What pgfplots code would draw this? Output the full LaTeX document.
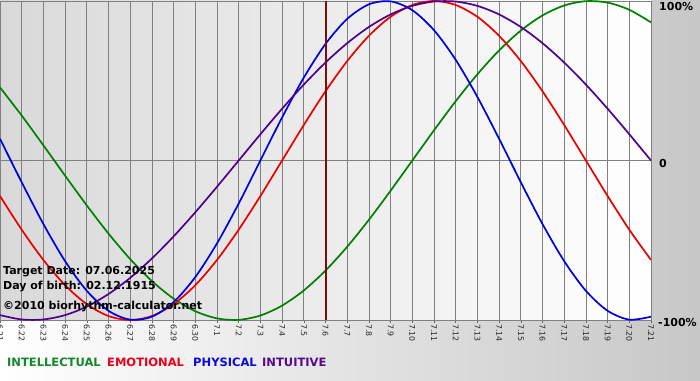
\documentclass[border=0pt]{standalone}
\usepackage{pgfplots}
\pgfplotsset{compat=1.18}
\usepackage{pgfplotstable}
\usepackage{fontspec}
\setmainfont{DejaVu Sans}
\definecolor{cIntel}{RGB}{0,128,0}
\definecolor{cEmo}{RGB}{235,0,0}
\definecolor{cPhy}{RGB}{0,0,220}
\definecolor{cIntu}{RGB}{80,0,140}
\definecolor{cTarget}{RGB}{120,15,15}
\definecolor{lIntel}{RGB}{20,135,45}
\definecolor{lEmo}{RGB}{235,0,25}
\definecolor{lPhy}{RGB}{10,10,225}
\definecolor{lIntu}{RGB}{85,10,140}

\pgfplotstableread{
x phy emo intel intu
0 13.62 -22.25 45.82 -96.94
1 -13.62 -43.39 28.17 -99.66
2 -39.84 -62.35 9.51 -99.66
3 -63.11 -78.18 -9.51 -96.94
4 -81.70 -90.10 -28.17 -91.58
5 -94.23 -97.49 -45.82 -83.72
6 -99.77 -100 -61.82 -73.57
7 -97.91 -97.49 -75.58 -61.42
8 -88.79 -90.10 -86.60 -47.60
9 -73.08 -78.18 -94.49 -32.47
10 -51.96 -62.35 -98.98 -16.46
11 -26.98 -43.39 -99.89 0
12 0 -22.25 -97.18 16.46
13 26.98 0 -90.96 32.47
14 51.96 22.25 -81.46 47.60
15 73.08 43.39 -69.01 61.42
16 88.79 62.35 -54.06 73.57
17 97.91 78.18 -37.17 83.72
18 99.77 90.10 -18.93 91.58
19 94.23 97.49 0 96.94
20 81.70 100 18.93 99.66
21 63.11 97.49 37.17 99.66
22 39.84 90.10 54.06 96.94
23 13.62 78.18 69.01 91.58
24 -13.62 62.35 81.46 83.72
25 -39.84 43.39 90.96 73.57
26 -63.11 22.25 97.18 61.42
27 -81.70 0 99.89 47.60
28 -94.23 -22.25 98.98 32.47
29 -99.77 -43.39 94.49 16.46
30 -97.91 -62.35 86.60 0
}\bio

\begin{document}
\begin{tikzpicture}
\shade[left color=white, right color=black!22] (0pt,0pt) rectangle (700pt,380pt);
\useasboundingbox (0pt,0pt) rectangle (700pt,380pt);
\begin{axis}[
  at={(0pt,60pt)}, anchor=south west,
  scale only axis, width=651pt, height=319pt,
  xmin=0, xmax=30, ymin=-100, ymax=100,
  axis background/.style={left color=black!15, right color=white},
  axis line style={draw=black!50, line width=0.8pt},
  xtick={0,...,30},
  xticklabels={6.21,6.22,6.23,6.24,6.25,6.26,6.27,6.28,6.29,6.30,7.1,7.2,7.3,7.4,7.5,7.6,7.7,7.8,7.9,7.10,7.11,7.12,7.13,7.14,7.15,7.16,7.17,7.18,7.19,7.20,7.21},
  xtick pos=bottom, tick align=outside, major tick length=3pt,
  xtick style={draw=black!60, line width=0.6pt},
  xticklabel style={rotate=-90, anchor=west, font=\fontsize{7.8}{9}\selectfont, text=black!85, inner sep=1pt},
  ytick={-100,0,100}, yticklabels={}, ytick style={draw=none},
  xmajorgrids, ymajorgrids,
  grid style={draw=black!50, line width=0.8pt},
  clip=true,
]
\addplot[cIntel, line width=1.7pt, smooth] table[x=x, y=intel] {\bio};
\addplot[cEmo, line width=1.7pt, smooth] table[x=x, y=emo] {\bio};
\addplot[cPhy, line width=1.7pt, smooth] table[x=x, y=phy] {\bio};
\addplot[cIntu, line width=1.7pt, smooth] table[x=x, y=intu] {\bio};
\addplot[cTarget, line width=2pt] coordinates {(15,-100) (15,100)};
\end{axis}
\begin{scope}[every node/.style={font=\bfseries\fontsize{11}{13}\selectfont, inner sep=0pt}]
\node[anchor=west] at (659pt,373pt) {100\%};
\node[anchor=west] at (659pt,217pt) {0};
\node[anchor=west] at (658pt,58pt) {-100\%};
\node[anchor=west] at (3pt,108pt) {Target Date: 07.06.2025};
\node[anchor=west] at (3pt,93pt) {Day of birth: 02.12.1915};
\node[anchor=west] at (3pt,73pt) {©2010 biorhythm-calculator.net};
\end{scope}
\begin{scope}[every node/.style={font=\bfseries\fontsize{11.5}{13}\selectfont, inner sep=0pt, anchor=west}]
\node[text=lIntel] at (7pt,18pt) {INTELLECTUAL};
\node[text=lEmo] at (107pt,18pt) {EMOTIONAL};
\node[text=lPhy] at (193pt,18pt) {PHYSICAL};
\node[text=lIntu] at (262pt,18pt) {INTUITIVE};
\end{scope}
\end{tikzpicture}
\end{document}
